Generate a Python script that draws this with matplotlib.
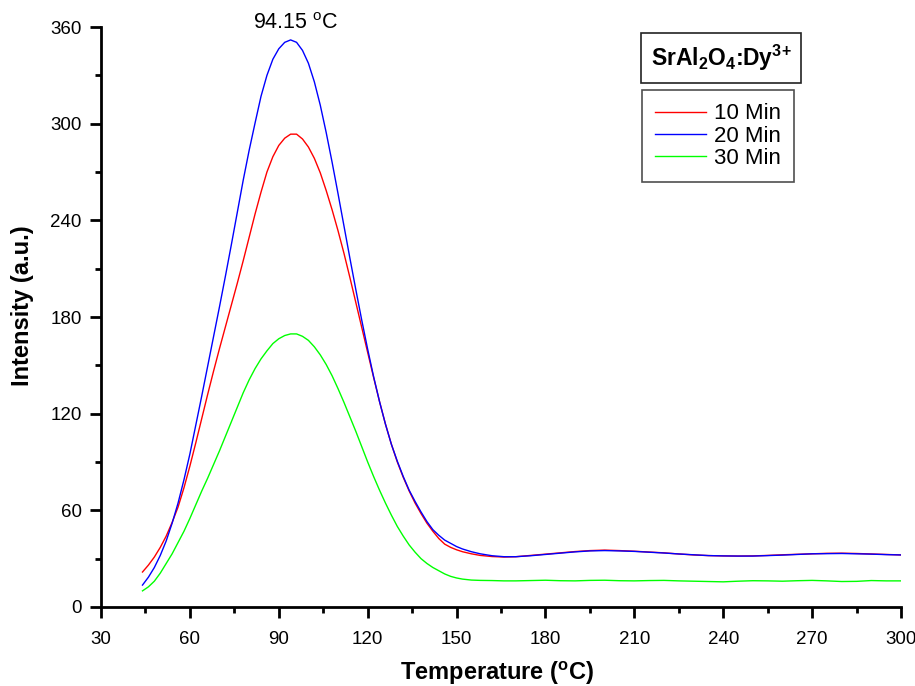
import matplotlib
matplotlib.use("Agg")
import matplotlib.pyplot as plt
from matplotlib.ticker import MultipleLocator

plt.rcParams['font.family'] = ['Liberation Sans', 'DejaVu Sans']
plt.rcParams['mathtext.fontset'] = 'custom'
plt.rcParams['mathtext.rm'] = 'Liberation Sans'
plt.rcParams['mathtext.bf'] = 'Liberation Sans:bold'

# temperatures (degC)
temps = [44, 46, 48, 50, 52, 54, 56, 58, 60, 62, 64, 66, 68, 70, 72, 74, 76, 78, 80, 82, 84, 86, 88, 90,
         92, 94, 96, 98, 100, 102, 104, 106, 108, 110, 112, 114, 116, 118, 120, 122, 124, 126, 128, 130,
         132, 134, 136, 138, 140, 142, 144, 146, 148, 150, 152, 155, 158, 162, 166, 170, 175, 180, 185,
         190, 195, 200, 205, 210, 215, 220, 225, 230, 235, 240, 245, 250, 255, 260, 265, 270, 275, 280,
         285, 290, 295, 300]

i_10min = [21.7, 26, 31, 37, 44, 52.5, 62, 74, 87.5, 102, 117, 132, 146.5, 160.5, 174, 187.5, 201, 215,
           229.5, 244, 257.5, 270, 279.5, 286.5, 291, 293.5, 293.5, 290.5, 285.5, 278.5, 269.5, 258.5,
           246.5, 233.5, 219.5, 204.5, 189, 173.5, 158, 142.5, 127.5, 113.5, 101, 90, 80.5, 72, 64.5, 58,
           52, 47, 42.5, 39, 37, 35.5, 34.3, 33, 32, 31.3, 31, 31.2, 32, 32.8, 33.6, 34.4, 35, 35.3, 35,
           34.6, 34.1, 33.6, 32.9, 32.3, 31.9, 31.7, 31.6, 31.7, 32, 32.4, 32.7, 33, 33.3, 33.4, 33.2, 32.9,
           32.6, 32.3]

i_20min = [13.6, 18.5, 24.5, 32, 41, 52, 64.5, 79, 95, 113, 131, 149.5, 168, 186.5, 205.5, 225, 245, 265,
           283.5, 300.5, 317, 330, 340, 346.5, 350.5, 352, 350.5, 345.5, 337.5, 326, 311.5, 294.5, 276,
           256.5, 236.5, 216.5, 197, 178, 160, 143, 127.5, 113.5, 101, 90.5, 81, 72.5, 65.5, 59, 53, 48,
           44.5, 41.5, 39.5, 37.5, 36, 34.3, 33, 31.8, 31.2, 31.2, 31.8, 32.6, 33.4, 34.2, 34.8, 35, 34.8,
           34.5, 34, 33.5, 32.9, 32.4, 31.9, 31.7, 31.6, 31.6, 31.9, 32.2, 32.6, 33, 33.1, 33.2, 33, 32.8,
           32.5, 32.3]

i_30min = [10, 12.5, 16, 21, 27, 33, 40, 47, 55, 63.5, 72, 80, 88.5, 97, 106, 115, 124, 133, 141, 148,
           154, 159, 163.5, 166.5, 168.5, 169.5, 169.5, 168, 165.5, 161.5, 156.5, 150.5, 143.5, 135.5, 127,
           118, 109, 99.5, 90, 81, 72.5, 64.5, 57, 50, 44, 38.5, 34, 30, 27, 24.5, 22.5, 20.5, 19, 18,
           17.3, 16.7, 16.5, 16.4, 16.2, 16.2, 16.4, 16.6, 16.3, 16.2, 16.5, 16.6, 16.3, 16.2, 16.4, 16.5,
           16.2, 16.0, 15.8, 15.6, 16.0, 16.3, 16.2, 16.0, 16.3, 16.5, 16.2, 15.8, 15.9, 16.4, 16.2, 16.2]

labels = ['10 Min', '20 Min', '30 Min']
colors = ['#ff0000', '#0000ff', '#00ff00']
peak_temp = 94.15

fig = plt.figure(figsize=(9.15, 6.86), dpi=100)
ax = fig.add_axes([0.1104, 0.1152, 0.8743, 0.8454])

ax.plot(temps, i_10min, color=colors[0], lw=1.0, label=labels[0])
ax.plot(temps, i_20min, color=colors[1], lw=1.0, label=labels[1])
ax.plot(temps, i_30min, color=colors[2], lw=1.0, label=labels[2])

ax.set_xlim(30, 300)
ax.set_ylim(0, 360)
ax.xaxis.set_major_locator(MultipleLocator(30))
ax.xaxis.set_minor_locator(MultipleLocator(15))
ax.yaxis.set_major_locator(MultipleLocator(60))
ax.yaxis.set_minor_locator(MultipleLocator(30))

for s in ['top', 'right']:
    ax.spines[s].set_visible(False)
for s in ['left', 'bottom']:
    ax.spines[s].set_linewidth(2)
ax.tick_params(which='major', direction='out', length=8, width=2, labelsize=13.5)
ax.tick_params(axis='x', which='major', pad=9)
ax.tick_params(axis='y', which='major', pad=6)
ax.tick_params(which='minor', direction='out', length=4, width=2)

ax.set_xlabel(r'Temperature ($^{\mathbf{o}}$C)', fontsize=17, fontweight='bold', va='top')
ax.xaxis.set_label_coords(0.495, -0.09)
ax.set_ylabel('Intensity (a.u.)', fontsize=17, fontweight='bold')
ax.yaxis.set_label_coords(-0.084, 0.52)

ax.text(peak_temp + 1.6, 358.8, r'94.15 $^{\rm o}$C', ha='center', va='baseline',
        fontsize=15.5, clip_on=False)

fig.text(0.7883, 0.9155, r'SrAl$_{\mathbf{2}}$O$_{\mathbf{4}}$:Dy$^{\mathbf{3\!+}}$', ha='center',
         va='center', fontsize=16.5, fontweight='bold',
         bbox=dict(boxstyle='square,pad=0.42', fc='white', ec='#222222', lw=1.2))

leg = ax.legend(loc='upper left', bbox_to_anchor=(0.7017, 0.8688), bbox_transform=fig.transFigure,
                fontsize=16, frameon=True, fancybox=False, handlelength=2.3, handletextpad=0.32,
                labelspacing=0.06, borderpad=0.6, borderaxespad=0)
leg.get_frame().set_edgecolor('#222222')
leg.get_frame().set_linewidth(1.2)

fig.savefig('out.png', dpi=100)
